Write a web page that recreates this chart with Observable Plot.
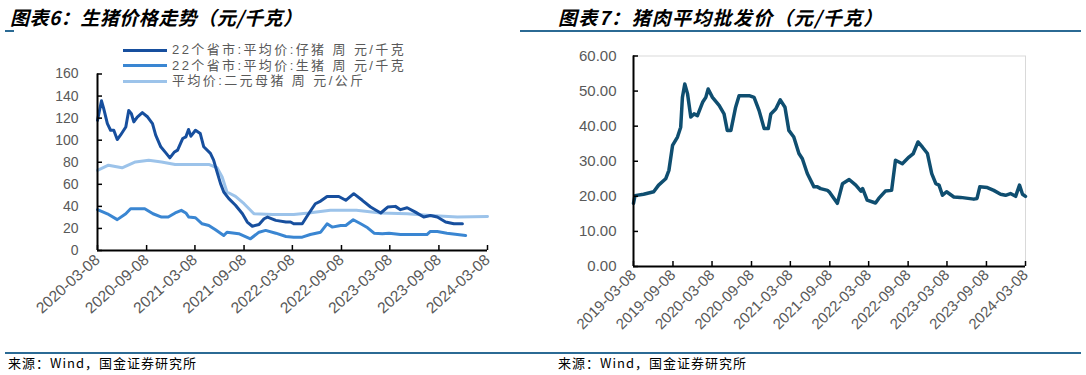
<!DOCTYPE html>
<html><head><meta charset="utf-8">
<script src="https://cdn.jsdelivr.net/npm/d3@7"></script>
<script src="https://cdn.jsdelivr.net/npm/@observablehq/plot@0.6"></script>
<style>
html,body{margin:0;padding:0;background:#fff}
body{width:1086px;height:375px;position:relative;overflow:hidden;font-family:"Liberation Sans",Arial,sans-serif}
.abs{position:absolute}
.title{font-family:"Noto Sans CJK SC",sans-serif;font-weight:bold;font-style:italic;font-size:19px;letter-spacing:0.5px;color:#000;line-height:19px;white-space:nowrap}
.rule{background:#2b6a94;height:2px}
.foot{font-family:"Noto Sans CJK SC",sans-serif;font-size:13px;letter-spacing:1px;color:#000;line-height:14px;white-space:nowrap}
.leg{font-family:"Liberation Sans","Noto Sans CJK SC",sans-serif;font-size:13px;letter-spacing:2.4px;color:#595959;line-height:14px;white-space:nowrap;height:14px}
.leg .sw{position:absolute;left:0;top:5.5px;width:44px;height:3px}
.leg .tx{position:absolute;left:49px;top:0}
</style>
</head><body>
<div class="abs title" style="left:10px;top:7px">图表6：生猪价格走势（元/千克）</div>
<div class="abs title" style="left:558px;top:7px;letter-spacing:1.3px">图表7：猪肉平均批发价（元/千克）</div>
<div class="abs rule" style="left:5px;top:30px;width:9px"></div>
<div class="abs rule" style="left:520px;top:30px;width:561px"></div>
<div class="abs" id="left" style="left:0;top:40px"></div>
<div class="abs" id="right" style="left:545px;top:40px"></div>
<div class="abs" id="legend" style="left:123px;top:0"></div>
<div class="abs rule" style="left:5px;top:352px;width:1076px"></div>
<div class="abs foot" style="left:8px;top:356px">来源：Wind，国金证券研究所</div>
<div class="abs foot" style="left:558px;top:356px">来源：Wind，国金证券研究所</div>
<script>
// ---------- Data: 图表6 生猪价格走势 ----------
const leftSeriesNames = ["22个省市:平均价:仔猪 周 元/千克", "22个省市:平均价:生猪 周 元/千克", "平均价:二元母猪 周 元/公斤"];
const leftColors = ["#174f9e", "#3a86d2", "#9cc3ea"];
const pigletSeries = [["2020-03-08",118],["2020-03-23",135.7],["2020-03-31",128.8],["2020-04-14",115],["2020-04-26",109],["2020-05-08",109],["2020-05-21",100.6],["2020-06-02",104.5],["2020-06-22",112],["2020-07-03",127],["2020-07-13",124],["2020-07-22",116.6],["2020-08-04",121],["2020-08-23",125],["2020-09-12",121],["2020-09-30",115],["2020-10-12",104.5],["2020-10-31",94],["2020-11-19",88.5],["2020-12-04",84],["2020-12-20",89],["2021-01-02",91],["2021-01-21",101.5],["2021-02-02",103],["2021-02-12",109.7],["2021-02-21",103.6],["2021-03-10",109],["2021-03-28",106],["2021-04-10",94],["2021-05-05",88],["2021-05-17",82],["2021-05-30",71],["2021-06-12",60.6],["2021-06-24",53],["2021-07-13",47],["2021-08-07",41],["2021-09-02",33.3],["2021-09-20",25.8],["2021-10-09",22],["2021-11-03",23.6],["2021-11-22",28.8],["2021-12-05",30.3],["2022-01-05",27.3],["2022-02-12",25.8],["2022-03-01",25.8],["2022-03-13",24.2],["2022-04-14",24.2],["2022-05-08",33.3],["2022-06-02",42.4],["2022-06-22",44.8],["2022-07-16",49],["2022-08-29",49],["2022-09-24",45.5],["2022-10-24",51.5],["2022-11-25",45.5],["2022-12-26",39.4],["2023-02-02",34],["2023-02-28",39.4],["2023-03-29",40],["2023-04-17",37],["2023-05-12",38.8],["2023-06-12",34.8],["2023-07-13",30.3],["2023-08-07",31.8],["2023-09-02",30.3],["2023-10-03",25.8],["2023-11-03",24.2],["2023-12-05",24.2]];
const hogSeries = [["2020-03-08",37],["2020-04-14",33.3],["2020-05-21",28],["2020-06-22",33.3],["2020-07-10",37.9],["2020-09-01",37.9],["2020-10-02",33.3],["2020-11-03",30.3],["2020-11-28",30.3],["2020-12-24",34],["2021-01-16",36.4],["2021-02-02",34],["2021-02-13",30.3],["2021-03-10",29.7],["2021-04-04",24.2],["2021-04-29",22.7],["2021-05-24",18.8],["2021-06-24",13.6],["2021-07-06",16.6],["2021-08-19",15.2],["2021-10-02",10.6],["2021-11-03",16.6],["2021-11-28",18.2],["2022-01-05",15.7],["2022-02-12",12.7],["2022-03-13",12.1],["2022-04-14",12.1],["2022-05-14",14.5],["2022-06-22",16.6],["2022-07-16",24.2],["2022-08-04",21.2],["2022-09-05",22.7],["2022-09-24",22.7],["2022-10-22",27.9],["2022-11-19",24.2],["2022-12-15",20.6],["2023-01-08",15.7],["2023-02-08",15.2],["2023-03-05",15.7],["2023-04-17",14.5],["2023-06-06",14.5],["2023-07-25",14.5],["2023-08-07",17.3],["2023-09-02",17.3],["2023-10-08",15.7],["2023-11-16",14.5],["2023-12-17",13.6]];
const sowSeries = [["2020-03-08",72.7],["2020-04-18",77.3],["2020-06-08",75],["2020-07-28",80.3],["2020-09-16",81.8],["2020-11-03",80.3],["2020-12-24",78],["2021-02-24",78],["2021-04-29",78],["2021-05-30",75],["2021-06-18",66.7],["2021-07-06",53],["2021-08-07",49],["2021-09-08",42.4],["2021-10-15",33.3],["2021-12-24",32.7],["2022-03-13",32.7],["2022-05-08",34],["2022-07-28",36.4],["2022-11-03",36.4],["2023-02-02",34],["2023-05-12",33.3],["2023-08-07",31.8],["2023-11-16",30.3],["2024-03-08",30.9]];
const leftXTicks = ["2020-03-08","2020-09-08","2021-03-08","2021-09-08","2022-03-08","2022-09-08","2023-03-08","2023-09-08","2024-03-08"];
const leftYTicks = [0,20,40,60,80,100,120,140,160];

// ---------- Data: 图表7 猪肉平均批发价 ----------
const porkColor = "#0f4e70";
const porkSeries = [["2019-03-08",18],["2019-03-15",20.2],["2019-04-24",20.6],["2019-06-10",21.3],["2019-07-03",23.2],["2019-08-05",25],["2019-08-20",27.4],["2019-09-06",34.5],["2019-09-29",36.9],["2019-10-14",39.7],["2019-10-22",48.2],["2019-11-02",52],["2019-11-15",49.2],["2019-11-30",42.6],["2019-12-15",43.5],["2019-12-31",43],["2020-01-24",46.8],["2020-02-08",48.2],["2020-02-19",50.6],["2020-03-10",48.2],["2020-04-10",45.9],["2020-05-03",43.5],["2020-05-18",38.8],["2020-06-04",38.8],["2020-06-26",45.4],["2020-07-12",48.7],["2020-08-28",48.7],["2020-09-20",48.2],["2020-10-13",44.5],["2020-11-06",39.3],["2020-11-25",39.3],["2020-12-07",43.5],["2020-12-30",44.9],["2021-01-20",47.5],["2021-02-11",45.4],["2021-03-01",38.8],["2021-03-24",36.9],["2021-04-17",32.2],["2021-05-03",30.7],["2021-05-26",26.5],["2021-06-26",22.7],["2021-07-12",22.7],["2021-07-27",22.2],["2021-08-28",21.7],["2021-09-05",21.3],["2021-10-13",18],["2021-11-06",23.6],["2021-12-07",24.8],["2022-01-07",23.2],["2022-01-31",21.5],["2022-02-08",22.2],["2022-03-01",18.9],["2022-04-09",18.1],["2022-04-24",19.4],["2022-05-25",21.5],["2022-06-23",21.7],["2022-07-11",30.3],["2022-08-12",29.3],["2022-09-12",31.2],["2022-10-02",32.2],["2022-10-24",35.5],["2022-11-14",34],["2022-12-07",32.2],["2022-12-27",26.5],["2023-01-15",23.6],["2023-01-30",23.2],["2023-02-15",20.3],["2023-03-06",21.3],["2023-04-09",19.8],["2023-05-10",19.7],["2023-07-11",19.2],["2023-07-26",19.4],["2023-08-08",22.7],["2023-09-12",22.5],["2023-10-12",21.7],["2023-11-13",20.6],["2023-12-06",20.3],["2023-12-29",20.8],["2024-01-22",20],["2024-02-09",23.2],["2024-02-23",20.6],["2024-03-08",20]];
const rightXTicks = ["2019-03-08","2019-09-08","2020-03-08","2020-09-08","2021-03-08","2021-09-08","2022-03-08","2022-09-08","2023-03-08","2023-09-08","2024-03-08"];
const rightYTicks = [0,10,20,30,40,50,60];

// ---------- helpers ----------
const D = s => new Date(s + "T00:00:00Z");
const fmt = d3.utcFormat("%Y-%m-%d");
const toRows = (arr, name) => arr.map(([d, v]) => ({date: D(d), value: v, name}));

// ---------- Left chart ----------
{
  const W = 545, H = 310, mL = 97, mR = 58, mT = 33.5, mB = 100;
  const xs = D(leftXTicks[0]), xe = D(leftXTicks[leftXTicks.length - 1]);
  const yMax = leftYTicks[leftYTicks.length - 1];
  const tickLen = 5;
  const dxMs = (xe - xs) * tickLen / (W - mL - mR);
  const dyV = yMax * tickLen / (H - mT - mB);
  const series = [sowSeries, hogSeries, pigletSeries];
  const names = [leftSeriesNames[2], leftSeriesNames[1], leftSeriesNames[0]];
  const cols = [leftColors[2], leftColors[1], leftColors[0]];
  const marks = [];
  series.forEach((s, i) => marks.push(Plot.lineY(toRows(s, names[i]), {x: "date", y: "value", stroke: cols[i], strokeWidth: 3})));
  marks.push(
    Plot.ruleY([0], {stroke: "#000", strokeWidth: 2}),
    Plot.ruleX([xs], {stroke: "#000", strokeWidth: 2, y1: 0, y2: yMax}),
    Plot.ruleY(leftYTicks, {y: d => d, x1: xs, x2: new Date(+xs + dxMs), stroke: "#000", strokeWidth: 1.5}),
    Plot.ruleX(leftXTicks.map(D), {x: d => d, y1: 0, y2: dyV, stroke: "#000", strokeWidth: 1.5}),
    Plot.axisY({ticks: leftYTicks, tickSize: 0, tickPadding: 19, label: null, tickFormat: d => String(d)}),
    Plot.axisX({ticks: leftXTicks.map(D), tickSize: 0, tickPadding: 7, tickRotate: -42, label: null, tickFormat: fmt, fontSize: "15.5px"})
  );
  const p = Plot.plot({
    width: W, height: H, marginLeft: mL, marginRight: mR, marginTop: mT, marginBottom: mB,
    x: {type: "utc", domain: [xs, xe], label: null},
    y: {domain: [0, yMax], label: null},
    style: {fontFamily: '"Liberation Sans", Arial, sans-serif', fontSize: "14px", color: "#595959", background: "transparent", overflow: "visible"},
    marks
  });
  document.getElementById("left").appendChild(p);

  // legend
  const lg = document.getElementById("legend");
  const tops = [43, 58.5, 74];
  leftSeriesNames.forEach((n, i) => {
    const row = document.createElement("div");
    row.className = "abs leg";
    row.style.top = tops[i] + "px";
    row.style.left = "0px";
    row.innerHTML = `<span class="sw" style="background:${leftColors[i]}"></span><span class="tx">${n}</span>`;
    lg.appendChild(row);
  });
}

// ---------- Right chart ----------
{
  const W = 541, H = 310, mL = 88, mR = 61, mT = 15.5, mB = 84;
  const xs = D(rightXTicks[0]), xe = D(rightXTicks[rightXTicks.length - 1]);
  const yMax = rightYTicks[rightYTicks.length - 1];
  const tickLen = 5;
  const dxMs = (xe - xs) * tickLen / (W - mL - mR);
  const dyV = yMax * tickLen / (H - mT - mB);
  const p = Plot.plot({
    width: W, height: H, marginLeft: mL, marginRight: mR, marginTop: mT, marginBottom: mB,
    x: {type: "utc", domain: [xs, xe], label: null},
    y: {domain: [0, yMax], label: null},
    style: {fontFamily: '"Liberation Sans", Arial, sans-serif', fontSize: "15px", color: "#595959", background: "transparent", overflow: "visible"},
    marks: [
      Plot.ruleY([yMax], {stroke: "#d9d9d9", strokeWidth: 1}),
      Plot.ruleX([xe], {stroke: "#d9d9d9", strokeWidth: 1, y1: 0, y2: yMax}),
      Plot.lineY(toRows(porkSeries, "猪肉平均批发价"), {x: "date", y: "value", stroke: porkColor, strokeWidth: 3.5}),
      Plot.ruleY([0], {stroke: "#000", strokeWidth: 2}),
      Plot.ruleX([xs], {stroke: "#000", strokeWidth: 2, y1: 0, y2: yMax}),
      Plot.ruleY(rightYTicks, {y: d => d, x1: xs, x2: new Date(+xs + dxMs), stroke: "#000", strokeWidth: 1.5}),
      Plot.ruleX(rightXTicks.map(D), {x: d => d, y1: 0, y2: dyV, stroke: "#000", strokeWidth: 1.5}),
      Plot.axisY({ticks: rightYTicks, tickSize: 0, tickPadding: 17, label: null, tickFormat: d => d.toFixed(2)}),
      Plot.axisX({ticks: rightXTicks.map(D), tickSize: 0, tickPadding: 6, tickRotate: -45, label: null, tickFormat: fmt})
    ]
  });
  document.getElementById("right").appendChild(p);
}
</script>
</body></html>
